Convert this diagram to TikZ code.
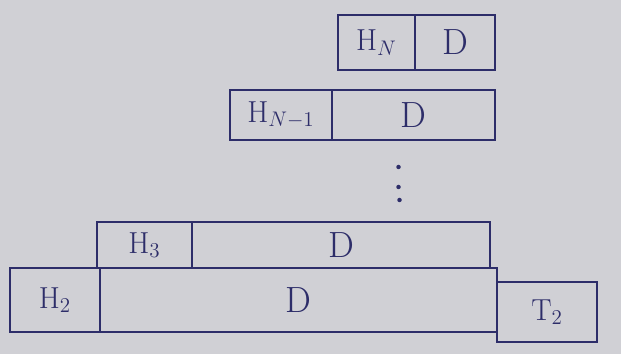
\documentclass[tikz,border=0pt]{standalone}
\usepackage{tikz}
\usetikzlibrary{positioning}
\definecolor{paper}{RGB}{208,208,213}
\definecolor{ink}{RGB}{45,45,105}
\tikzset{
    cell/.style = {rectangle, line width=1.1pt, draw=ink, inner sep=0pt, outer sep=0pt, text=ink, font=\huge},
    hcell/.style = {cell, font=\LARGE},
    inkdot/.style = {fill=ink}
}
\begin{document}
\begin{tikzpicture}
%
\fill[paper] (0,0) rectangle (12.42,-7.08);
%
\node[hcell, minimum width=1.54cm, minimum height=1.1cm] at (7.53,-0.85) (hn) {H$_N$};
\node[cell, minimum width=1.6cm, minimum height=1.1cm] at (9.1,-0.85) (dn) {D};
\node[hcell, minimum width=2.04cm, minimum height=1.0cm] at (5.62,-2.3) (hm) {H$_{N-1}$};
\node[cell, minimum width=3.26cm, minimum height=1.0cm] at (8.27,-2.3) (dm) {D};
\node[hcell, minimum width=1.9cm, minimum height=0.92cm] at (2.89,-4.9) (h3) {H$_3$};
\node[cell, minimum width=5.96cm, minimum height=0.92cm] at (6.82,-4.9) (d3) {D};
\node[hcell, minimum width=1.8cm, minimum height=1.28cm] at (1.1,-6.0) (h2) {H$_2$};
\node[cell, minimum width=7.94cm, minimum height=1.28cm] at (5.97,-6.0) (d2) {D};
\node[hcell, minimum width=2.0cm, minimum height=1.2cm] at (10.94,-6.24) (t2) {T$_2$};
%
\fill[inkdot] (7.97,-3.34) circle (0.045);
\fill[inkdot] (7.97,-3.74) circle (0.045);
\fill[inkdot] (7.99,-4.0) circle (0.045);
\end{tikzpicture}
\end{document}
